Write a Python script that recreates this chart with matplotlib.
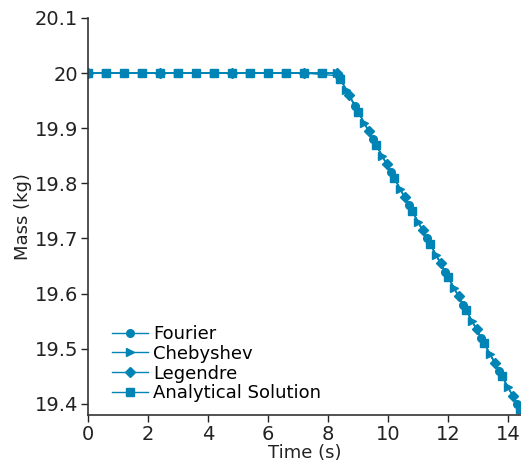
import matplotlib
matplotlib.use("Agg")
import matplotlib.pyplot as plt

# Data
t_fourier = [0.0, 1.2, 2.4, 3.6, 4.8, 6.0, 7.2, 8.35, 8.9, 9.5, 10.1, 10.7, 11.3, 11.9, 12.5, 13.1, 13.7, 14.3]
m_fourier = [20.0, 20.0, 20.0, 20.0, 20.0, 20.0, 20.0, 19.995, 19.94, 19.88, 19.82, 19.76, 19.70, 19.64, 19.58, 19.52, 19.46, 19.40]

t_cheb = [0.6, 1.8, 3.0, 4.2, 5.4, 6.6, 7.8, 8.3, 8.6, 9.2, 9.8, 10.4, 11.0, 11.6, 12.2, 12.8, 13.4, 14.0]
m_cheb = [20.0, 20.0, 20.0, 20.0, 20.0, 20.0, 20.0, 20.0, 19.97, 19.91, 19.85, 19.79, 19.73, 19.67, 19.61, 19.55, 19.49, 19.43]

t_leg = [0.0, 2.4, 4.8, 7.2, 8.3, 8.7, 9.35, 9.95, 10.55, 11.15, 11.75, 12.35, 12.95, 13.55, 14.15]
m_leg = [20.0, 20.0, 20.0, 20.0, 20.0, 19.96, 19.895, 19.835, 19.775, 19.715, 19.655, 19.595, 19.535, 19.475, 19.415]

t_an = [0.0, 0.6, 1.2, 1.8, 2.4, 3.0, 3.6, 4.2, 4.8, 5.4, 6.0, 6.6, 7.2, 7.8,
        8.3, 8.4, 9.0, 9.6, 10.2, 10.8, 11.4, 12.0, 12.6, 13.2, 13.8, 14.4]
m_an = [20.0, 20.0, 20.0, 20.0, 20.0, 20.0, 20.0, 20.0, 20.0, 20.0, 20.0, 20.0, 20.0, 20.0,
        20.0, 19.99, 19.93, 19.87, 19.81, 19.75, 19.69, 19.63, 19.57, 19.51, 19.45, 19.39]

x_ticks = [0, 2, 4, 6, 8, 10, 12, 14]
y_ticks = [19.4, 19.5, 19.6, 19.7, 19.8, 19.9, 20.0, 20.1]
y_ticklabels = ["19.4", "19.5", "19.6", "19.7", "19.8", "19.9", "20", "20.1"]

color = "#0084b5"

fig = plt.figure(figsize=(5.21, 4.71), dpi=100)
ax = fig.add_axes([0.169, 0.119, 0.831, 0.843])

ax.plot(t_fourier, m_fourier, color=color, lw=1.0, marker="o", ms=5.5, label="Fourier")
ax.plot(t_cheb, m_cheb, color=color, lw=1.0, marker=">", ms=5.5, label="Chebyshev")
ax.plot(t_leg, m_leg, color=color, lw=1.0, marker="D", ms=5, label="Legendre")
ax.plot(t_an, m_an, color=color, lw=1.0, marker="s", ms=5.5, markevery=[i for i in range(len(t_an)) if i != 14],
        label="Analytical Solution")

ax.set_xlim(0, 14.43)
ax.set_ylim(19.38, 20.1)
ax.set_xticks(x_ticks)
ax.set_yticks(y_ticks)
ax.set_yticklabels(y_ticklabels)
ax.tick_params(direction="out", labelsize=14, length=5, width=1, colors="#222222", pad=2)
ax.spines["top"].set_visible(False)
ax.spines["right"].set_visible(False)
for s in ["left", "bottom"]:
    ax.spines[s].set_linewidth(1.2)
    ax.spines[s].set_color("#333333")

ax.set_xlabel("Time (s)", fontsize=13, labelpad=0, color="#222222")
ax.set_ylabel("Mass (kg)", fontsize=13, labelpad=2, color="#222222")

leg = ax.legend(loc="lower left", frameon=False, fontsize=13, handlelength=2.0,
                handletextpad=0.3, labelspacing=0.1, borderaxespad=0.3,
                bbox_to_anchor=(0.025, 0.0))

fig.savefig("out.png", dpi=100)
